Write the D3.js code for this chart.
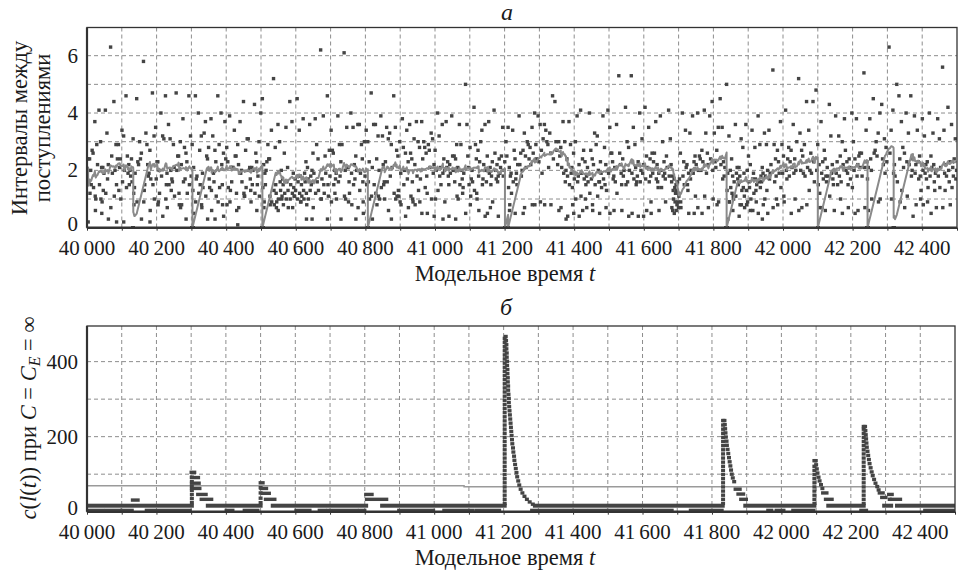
<!DOCTYPE html>
<html><head><meta charset="utf-8">
<script src="https://cdn.jsdelivr.net/npm/d3@7"></script>
<style>
body{margin:0;background:#fff}
svg{display:block}
</style>
</head><body>
<svg id="c" width="959" height="571"></svg>
<script>
// ---------------- data ----------------
const xTickValues = [40000,40200,40400,40600,40800,41000,41200,41400,41600,41800,42000,42200,42400];
const yTicksA = [0,2,4,6];
const yTicksB = [0,200,400];

// Panel a: inter-arrival intervals, in arrival order, grouped by segment start times
const segStart = [39999, 40133, 40303, 40504, 40807, 41201, 41838, 42100, 42243, 42318];
const s0 = [1.8,2.4,0.2,1.6,2.4,1.2,2.0,1.5,2.7,2.6, 1.4,3.7,1.1,0.6,1.0,2.9,2.2,4.1,1.5,3.0,
 1.0,2.1,0.5,0.9,2.1,1.3,1.9,4.1,1.2,3.3, 1.7,2.2,0.3,6.3,0.7,2.5,1.9,4.4,1.1,2.0,
 2.9,1.5,0.2,2.4,2.9,1.3,2.1,2.4,1.0,3.4, 1.6,3.2,0.2,2.0,4.6,1.4,2.5,1.9, 2.2,1.5,2.0,1.8,2.4,1.6,3.1];
const s1 = [0,0,0,0,0, 0,0,0,0,0, 0,0,0,0,0,
 1.2,0.8,1.4,1.9,4.5,0.9,2.3,2.2,3.0,2.4, 2.6,0.3,5.8,0.9,1.3,1.5,3.3,2.9,2.2,1.8,
 1.9,2.7,0.2,0.6,1.7,4.7,1.5,3.2,1.0,3.5, 1.7,2.3,2.3,0.8,0.9,2.0,1.2,4.0,1.8,3.2,
 0.4,3.1,4.6,1.0,1.5,1.9,0.7,3.6,1.5,3.1, 2.0,1.3,1.7,1.6,2.9,2.1,1.1,4.7,2.0,2.5,
 2.5,1.2,0.8,3.0,0.7,2.2,0.8,3.8,1.6,2.8, 1.7,2.6,0.3,2.3,1.2,4.6,1.5,3.2,1.8,2.9];
const s2 = [0,0,0,0,0, 0,0,0,0,0, 0,0,0,0,0, 0,0,0,0,0, 0,0,0,0,0,
 1.3,2.1,0.5,4.6,0.9,1.7,1.8,4.0,1.2,2.7, 1.5,3.2,0.8,0.7,1.9,1.4,3.3,3.7,1.1,2.5,
 2.4,0.3,2.8,1.7,1.4,3.8,1.3,0.6,3.2,1.9, 1.6,2.7,0.3,2.3,1.1,4.6,0.9,2.9,1.4,4.0,
 2.2,1.5,0.8,2.6,0.4,3.7,2.4,2.8,0.8,2.3, 1.4,3.9,0.9,1.3,2.1,1.6,2.1,2.1,3.4,2.5,
 2.5,1.2,0.6,2.9,0.1,2.2,0.7,3.7,1.9,2.0, 1.6,4.4,1.2,1.1,1.1,2.7,1.4,3.1,3.1,2.0,
 2.1,1.7,1.3,0.9,2.1,1.5,2.0,4.3,1.2,2.6, 2.3,0.6,1.5,1.8,3.0,1.1,4.0,4.5];
const s3 = [0,0,0,0,0, 0,0,0,0,0, 0,0,0,0,0, 0,0,0,0,0, 0,0,0,0,0,
 1.4,2.2,0.7,0.9,1.9,1.5,2.0,2.3,2.9,2.4, 2.4,1.1,0.8,3.4,0.9,5.2,1.3,0.8,2.8,1.5,
 1.2,0.7,0.9,3.6,0.6,1.0,3.0,1.6,1.3,2.0, 1.0,1.1,1.7,1.5,0.8,2.6,1.2,3.5,1.0,1.6,
 2.1,1.3,0.7,4.4,1.0,1.5,3.7,1.2,0.7,1.9, 1.4,1.1,1.1,1.7,1.3,4.5,1.0,1.6,3.4,1.2,
 1.8,0.9,0.9,1.5,1.1,3.8,1.3,1.0,1.9,1.6, 2.3,1.2,0.3,0.8,2.1,1.7,1.0,3.6,1.3,1.8,
 1.5,2.0,0.3,2.6,0.7,1.9,3.8,1.2,2.9,1.6, 2.4,1.3,6.2,1.0,1.0,1.7,3.9,1.5,1.2,2.5,
 1.9,4.6,0.3,1.5,1.1,2.7,1.8,3.4,0.9,2.7, 2.6,1.5,2.0,1.2,1.7,1.9,1.0,3.9,1.6,2.9,
 1.8,2.3,0.3,2.9,6.1,1.1,2.0,1.0,3.5,2.1, 2.1,0.9,1.6,1.2,4.0,1.9,0.8,3.5,1.5,2.2,
 1.7,2.5,0.3,2.0,3.6,0.7,3.6,1.3,1.9,2.9, 2.4,1.6,0.9,0.5,3.0,1.8,3.4,1.5,3.0];
const s4 = [0,0,0,0,0, 0,0,0,0,0, 0,0,0,0,0, 0,0,0,0,0, 0,0,
 1.6,2.3,1.0,4.7,1.1,2.1,0.3,3.6,1.5,3.6, 1.2,2.4,0.8,3.2,1.1,2.0,1.0,3.9,1.4,3.2,
 2.2,1.5,1.6,1.0,2.3,3.5,1.6,3.1,0.6,3.3, 1.8,2.9,0.3,2.1,4.6,1.2,3.5,1.0,2.7,1.1,
 2.5,1.3,1.1,3.0,0.9,1.9,0.8,3.8,2.8,1.5, 2.0,2.6,0.4,3.4,1.7,2.3,0.7,3.6,2.6,1.1,
 2.4,1.6,1.0,0.9,3.1,2.2,0.8,3.7,1.8,3.0, 1.3,2.8,0.9,1.7,3.7,0.5,2.4,3.0,2.8,1.4,
 2.6,1.8,1.2,0.5,2.9,2.7,2.1,3.3,1.0,3.1, 1.9,2.2,0.4,2.7,1.0,2.0,4.0,1.3,3.2,1.8,
 2.1,1.5,3.6,1.9,0.3,2.4,2.0,0.9,3.7,2.1, 2.3,1.8,1.5,0.4,2.2,1.9,3.9,2.5,2.0,2.5,
 1.6,2.4,0.3,2.9,1.1,2.1,1.0,3.6,1.5,2.9, 2.0,1.7,1.2,1.4,1.9,5.0,0.5,3.6,2.5,2.1,
 1.5,2.8,0.8,1.1,1.7,2.0,1.6,4.2,1.3,2.9, 2.4,1.2,1.0,2.7,1.8,0.6,2.3,3.0,3.4,1.5,
 1.7,2.2,3.6,0.4,2.0,1.6,2.5,0.5,3.7,1.9, 2.1,0.7,1.5,1.8,2.3,0.9,4.1,2.6,2.0,1.7,
 2.2,1.6,1.8,0.4,2.4,1.9,2.1,2.5,3.5,1.8, 2.0,2.3];
const s5 = [0,0,0,0,0, 0,0,0,0,0, 0,0,0,0,0, 0,0,0,0,0, 0,0,0,0,0,
 3.0,2.5,3.5,
 0,0,0,0,0, 0,0,0,0,0, 0,0,0,0,0, 0,0,0,0,0,
 1.4,2.1,0.6,0.8,1.8,1.9,1.2,3.4,1.6,2.7, 2.4,0.5,1.7,1.9,1.5,2.2,3.9,2.2,2.6,1.8,
 2.0,2.7,0.5,3.3,0.7,2.5,2.1,3.0,2.9,2.4, 2.8,2.2,3.5,0.8,2.6,4.0,0.8,2.9,2.4,3.9,
 2.3,3.6,0.9,2.7,1.9,3.1,3.6,0.8,3.4,3.0, 2.9,2.1,3.3,2.6,0.8,4.6,2.4,4.4,3.0,2.7,
 2.2,3.0,0.6,2.5,2.8,0.7,2.1,3.7,1.9,3.0, 1.6,2.0,0.3,2.4,1.8,0.4,3.7,1.5,2.9,1.9,
 2.1,1.4,0.8,2.6,0.5,1.7,3.0,1.0,3.9,1.6, 1.8,2.2,0.4,4.1,1.1,1.9,2.4,0.6,2.7,1.7,
 2.3,1.0,1.5,1.8,0.7,2.1,1.6,4.0,1.2,2.7, 1.7,2.4,0.8,0.6,2.2,3.3,1.5,2.9,3.2,1.1,
 2.0,1.6,1.6,0.5,2.3,1.9,1.4,3.9,1.7,2.8, 1.5,2.2,0.7,1.3,4.1,1.9,3.5,0.5,2.6,2.6,
 2.3,1.7,1.8,0.6,2.1,1.6,3.6,1.2,5.3,2.6, 2.2,1.9,1.5,0.6,2.4,1.8,2.0,4.2,1.5,3.0,
 1.6,2.8,0.4,2.0,5.3,1.9,0.5,3.5,1.7,2.9, 2.1,1.5,1.6,1.8,2.3,0.4,4.0,1.6,2.0,3.1,
 1.9,2.2,0.4,4.2,1.7,2.5,0.6,2.1,3.5,1.6, 2.4,1.8,0.9,0.5,2.6,1.9,2.3,2.6,3.7,1.7,
 2.2,1.6,1.4,1.9,0.6,3.9,2.0,1.4,3.0,1.8, 2.3,1.9,1.7,0.9,2.5,2.1,4.1,1.8,3.1,2.2,
 1.6,0.7,1.8,0.6,1.3,1.0,1.7,0.5,1.4,0.9, 1.2,1.5,0.6,1.3,0.8,1.6,0.9,1.2,0.7,1.1,
 1.7,2.6,0.9,0.7,4.0,1.8,2.3,1.5,3.4,2.1, 2.2,1.5,1.3,1.9,0.5,3.3,1.7,2.0,3.9,
 1.9,2.3,0.5,2.5,1.1,2.2,4.0,0.7,2.0,2.5, 2.4,2.0,2.7,0.5,2.3,4.1,1.1,3.3,1.9,
 2.6,2.2,0.7,3.9,2.4,4.4,2.0,1.0,3.3,2.3, 2.1,2.7,0.8,3.5,0.9,4.5,2.2,3.5,1.7,
 2.3,1.8,2.1,5.0];
const s6 = [0,0,0,0,0, 0,0,0,0,0, 0,0,0,0,0, 0,0,0,0,0, 0,0,0,0,0, 0,0,0,0,0,
 1.3,1.9,0.3,3.2,0.9,0.9,2.0,1.4,2.4,1.2, 1.8,0.6,1.1,1.0,1.6,3.6,1.1,1.9,2.1,1.7,
 1.5,2.1,0.4,1.8,0.8,3.1,0.8,1.3,2.8,1.4, 1.9,1.1,0.7,3.6,1.3,0.8,2.0,0.9,2.5,1.6,
 1.4,2.2,0.6,1.0,3.4,1.7,0.6,1.9,1.2,2.8, 1.7,1.3,0.9,1.5,3.9,0.5,1.6,2.9,1.4,1.8,
 1.6,2.1,0.3,1.9,0.8,3.3,1.0,1.8,2.9,1.3, 2.0,0.5,3.4,1.7,1.9,2.2,5.5,0.7,2.9,1.6,
 2.4,1.8,1.0,2.7,0.8,2.3,1.9,3.7,1.4,2.9, 1.9,2.5,1.1,0.9,4.1,2.0,1.7,2.4,2.8,1.8,
 2.3,2.7,0.5,2.1,3.6,1.9,2.4,1.0,2.0,3.0, 5.2,0.6,3.3,2.0,2.7,0.7,2.5,1.9,2.9,1.8,
 4.4,0.8,2.1,3.4,1.3,2.0,2.6,1.9,4.4,2.3, 1.6,4.8,2.0,2.9];
const s7 = [0,0,0,0,0, 0,0,0,0,0, 0,0,0,0,0, 0,0,0,0,0, 0,0,0,0,0,
 1.5,2.2,0.7,1.2,3.7,1.9,0.7,2.3,1.7,2.7, 2.4,0.6,1.8,1.6,2.1,1.8,4.3,1.1,3.2,1.9,
 2.2,1.7,1.5,2.0,0.6,3.9,1.9,2.3,1.5,3.2, 1.8,2.5,1.0,1.6,3.0,0.5,2.2,3.8,2.7,2.0,
 2.3,1.9,1.5,0.7,2.4,2.1,1.7,4.0,1.4,3.0, 2.0,2.4,0.5,3.8,1.8,2.2,0.6,2.5,2.6,2.1,
 2.6,1.8,5.4,2.1,0.7,3.4,2.3,1.7];
const s8 = [0,0,0,0,0, 0,0,0,0,0, 0,0,0,0,0, 0,0,0,0,0, 0,0,0,0,0, 0,0,0,
 2.1,0.6,3.8,2.4,2.0,1.0,4.5,2.6,2.7,3.0, 2.5,3.3,0.9,4.0,1.0,4.3,2.4,2.2,3.1,1.9,
 2.8,2.3,6.3,2.6,3.4,1.0,4.1,1.9];
const s9 = [0,0,0,0,0, 0,0,0,0,0, 0,0,0,0,0, 0,0,
 2.2,1.8,5.0,1.6,4.6,2.4,0.9,3.7,1.3,2.8, 2.1,2.6,0.7,4.0,2.3,1.1,3.3,2.2,4.6,1.8,
 2.0,2.4,0.4,3.9,1.9,2.2,0.8,3.4,2.3,1.7, 2.5,1.8,1.0,1.3,3.8,2.0,0.8,3.2,1.9,2.2,
 1.7,2.3,0.9,1.4,4.0,1.8,2.5,0.5,2.1,3.3, 2.2,1.6,1.3,1.9,2.0,0.7,3.8,1.8,3.1,1.4,
 2.1,5.6,0.7,3.4,1.9,1.3,2.2,1.8,4.2,2.0, 1.6,2.3,0.8,3.6,1.4,2.1,1.8,2.4,3.1,1.7,2.0];
const movingWindow = 20; // gray curve: mean of the last 20 intervals

// Panel б: c(l(t)) markers
const baseLevel = 16;
const baseRuns = [[40000,40302],[40348,40500],[40535,40804],[40850,41203],[41290,41831],
  [41896,42095],[42135,42237],[42296,42316],[42333,42500]];
const lowLevel = 4;
const lowRuns = [[40003,40046],[40057,40095],[40101,40129],[40172,40296],[40402,40419],[40454,40491],
  [40603,40641],[40670,40684],[40694,40776],[40786,40799],[40899,40997],[41029,41109],[41121,41187],
  [41282,41494],[41503,41684],[41739,41828],[41962,41971],[41986,42006],[42034,42092],[42230,42244],[42414,42494]];
const stepRuns = [[40132,40146,31],
  [40301,40309,105],[40302,40320,91],[40302,40322,76],[40302,40324,62],[40320,40342,46],[40330,40358,33],
  [40500,40506,77],[40502,40516,62],[40506,40524,49],[40515,40540,33],
  [40804,40820,46],[40806,40862,33],
  [41868,41880,60],[41876,41890,47],[41884,41898,33],
  [42120,42130,50],[42128,42145,33],
  [42283,42292,50],[42290,42300,38],
  [42310,42318,46],[42318,42342,33]];
const columnT = [40302, 40500, 41203, 41832, 42095, 42237];
const columnV = [
  [24,35,46,57,68,80,92],
  [24,36,50,64],
  [22,33,44,55,66,77,88,99,110,121,132,143,154,165,176,187,198,209,220,231,242,253,264,275,286,297,308,319,330,341,352,363,374,385,396,407,418,429,440,451,462],
  [22,33,44,55,66,77,88,99,110,121,132,143,154,165,176,187,198,209,220,231,243],
  [22,33,44,55,66,77,88,99,110,121,136],
  [22,33,44,55,66,77,88,99,110,121,132,143,154,165,176,187,198,209,220,227]];
const decayPts = [
  [41206,467],[41207,456],[41208,445],[41208,434],[41209,423],[41209,412],[41210,401],[41210,390],[41211,379],[41211,368],
  [41212,357],[41212,346],[41213,335],[41213,324],[41214,313],[41215,302],[41215,291],[41216,280],[41217,269],[41218,258],
  [41219,247],[41220,236],[41221,225],[41222,214],[41223,203],[41224,192],[41225,181],[41227,170],[41228,159],[41230,148],
  [41231,137],[41233,126],[41235,115],[41237,104],[41239,93],[41242,82],[41245,71],[41249,60],[41254,50],[41260,41],
  [41267,33],[41275,26],[41284,20],
  [41836,243],[41837,232],[41838,221],[41839,210],[41840,199],[41842,188],[41843,177],[41845,166],[41847,155],[41849,144],
  [41851,133],[41853,122],[41855,111],[41857,100],[41860,90],[41864,80],
  [42099,136],[42100,125],[42102,114],[42104,103],[42107,92],[42110,82],[42114,72],[42118,62],
  [42241,227],[42242,216],[42243,205],[42244,194],[42245,183],[42246,172],[42248,161],[42250,150],[42252,139],[42254,128],
  [42257,117],[42260,106],[42263,96],[42267,86],[42271,76],[42276,67],[42280,58],
  [42312,33]];
const limitT = [40000, 41086, 41086, 42500];
const limitV = [69, 69, 66.5, 66.5];

// ---------------- drawing ----------------
const FONT = '"Liberation Serif", "Times New Roman", serif';
const svg = d3.select('#c');
const pA = {l:87, r:957, t:27.5, b:227.7};
const pB = {l:87, r:955, t:326, b:511.7};
const xA = d3.scaleLinear().domain([40000,42500]).range([pA.l,pA.r]);
const yA = d3.scaleLinear().domain([0,7]).range([pA.b, pA.b-7*28.67]);
const xB = d3.scaleLinear().domain([40000,42500]).range([pB.l,pB.r]);
const yB = d3.scaleLinear().domain([0,495]).range([pB.b, pB.t]);

const fmt = v => { const s = String(v); return s.slice(0,2) + '\u2009' + s.slice(2); };
const gridColor = '#8d8d8d', frameColor = '#333', markColor = '#444', textColor = '#1a1a1a';
const vGrid = d3.range(40100, 42500, 100);
const FS = 21, FT = 22.5, FL = 24;

function txt(sel){ return sel.attr('font-family',FONT).attr('fill',textColor); }

const defs = svg.append('defs');
defs.append('clipPath').attr('id','clipA').append('rect')
  .attr('x',pA.l).attr('y',pA.t).attr('width',pA.r-pA.l).attr('height',pA.b-pA.t);
defs.append('clipPath').attr('id','clipB').append('rect')
  .attr('x',pB.l).attr('y',pB.t).attr('width',pB.r-pB.l).attr('height',pB.b-pB.t);

function panel(p, x, y, hGrid, yTicks, yFmt){
  const g = svg.append('g');
  g.selectAll('.vg').data(vGrid).join('line')
    .attr('x1',d=>x(d)).attr('x2',d=>x(d)).attr('y1',p.t).attr('y2',p.b)
    .attr('stroke',gridColor).attr('stroke-width',1).attr('stroke-dasharray','4,3');
  g.selectAll('.hg').data(hGrid).join('line')
    .attr('x1',p.l).attr('x2',p.r).attr('y1',d=>y(d)).attr('y2',d=>y(d))
    .attr('stroke',gridColor).attr('stroke-width',1).attr('stroke-dasharray','4,3');
  const ax = svg.append('g').attr('transform',`translate(0,${p.b})`)
    .call(d3.axisBottom(x).tickValues(d3.range(40000,42501,100)).tickSize(3).tickFormat(''));
  ax.select('.domain').remove();
  ax.selectAll('line').attr('stroke',frameColor).attr('stroke-width',1);
  txt(svg.append('g').selectAll('text').data(xTickValues).join('text')
    .attr('x',d=>x(d)).attr('y',p.b+27.5).attr('text-anchor','middle')
    .attr('font-size',FS).text(fmt));
  // the lowest label sits a little higher so it clears the first x label
  txt(svg.append('g').selectAll('text').data(yTicks).join('text')
    .attr('x',p.l-9).attr('y',d=>y(d)+(d===0 ? 3.5 : 7)).attr('text-anchor','end')
    .attr('font-size',FS).text(yFmt));
}
function frame(p){
  const g = svg.append('g');
  g.append('rect').attr('x',p.l).attr('y',p.t).attr('width',p.r-p.l).attr('height',p.b-p.t)
    .attr('fill','none').attr('stroke',frameColor).attr('stroke-width',1.3);
  g.append('line').attr('x1',p.l).attr('x2',p.r).attr('y1',p.b).attr('y2',p.b)
    .attr('stroke',frameColor).attr('stroke-width',2.6);
  g.append('line').attr('x1',p.l).attr('x2',p.l).attr('y1',p.t).attr('y2',p.b)
    .attr('stroke',frameColor).attr('stroke-width',2.2);
}

// ---- panel а ----
panel(pA, xA, yA, [1,2,3,4,5,6], yTicksA, d=>d);
const segments = [s0,s1,s2,s3,s4,s5,s6,s7,s8,s9];
const arrivals = [];
segments.forEach((seg,k)=>{ let t = segStart[k]; seg.forEach(v=>{ t += v; arrivals.push({t, v}); }); });
const avgCurve = arrivals.map((d,i)=>({t:d.t, v:d3.mean(arrivals.slice(Math.max(0,i-movingWindow+1), i+1), e=>e.v)}));

const plotA = svg.append('g').attr('clip-path','url(#clipA)');
const ms = 3.4;
plotA.selectAll('rect.pt').data(arrivals).join('rect')
  .attr('x',d=>xA(d.t)-ms/2).attr('y',d=>yA(d.v)-ms/2).attr('width',ms).attr('height',ms)
  .attr('fill',markColor);
plotA.append('path').datum(avgCurve)
  .attr('d', d3.line().x(d=>xA(d.t)).y(d=>yA(d.v)))
  .attr('fill','none').attr('stroke','#8a8a8a').attr('stroke-width',2).attr('stroke-linejoin','round');
frame(pA);

// ---- panel б ----
panel(pB, xB, yB, [100,200,300,400], yTicksB, d=>d);
const plotB = svg.append('g').attr('clip-path','url(#clipB)');
plotB.append('path').datum(limitT.map((t,i)=>[t,limitV[i]]))
  .attr('d', d3.line().x(d=>xB(d[0])).y(d=>yB(d[1])))
  .attr('fill','none').attr('stroke','#9a9a9a').attr('stroke-width',1.5);
const mw = 4, mh = 3.4;
plotB.selectAll('rect.base').data(baseRuns).join('rect')
  .attr('x',d=>xB(d[0])-mw/2).attr('width',d=>xB(d[1])-xB(d[0])+mw)
  .attr('y',yB(baseLevel)-2).attr('height',4).attr('fill',markColor);
plotB.selectAll('rect.low').data(lowRuns).join('rect')
  .attr('x',d=>xB(d[0])-mw/2).attr('width',d=>xB(d[1])-xB(d[0])+mw)
  .attr('y',yB(lowLevel)-1.5).attr('height',3).attr('fill',markColor);
plotB.selectAll('rect.step').data(stepRuns).join('rect')
  .attr('x',d=>xB(d[0])-mw/2).attr('width',d=>xB(d[1])-xB(d[0])+mw)
  .attr('y',d=>yB(d[2])-mh/2).attr('height',mh).attr('fill',markColor);
const colPts = [];
columnT.forEach((t,i)=>columnV[i].forEach(c=>colPts.push([t,c])));
plotB.selectAll('rect.col').data(colPts.concat(decayPts)).join('rect')
  .attr('x',d=>xB(d[0])-mw/2).attr('width',mw)
  .attr('y',d=>yB(d[1])-mh/2).attr('height',mh).attr('fill',markColor);
frame(pB);

// ---- texts ----
txt(svg.append('text').attr('x',507).attr('y',20).attr('text-anchor','middle')
  .attr('font-size',FL).attr('font-style','italic').text('а'));
txt(svg.append('text').attr('x',506).attr('y',315).attr('text-anchor','middle')
  .attr('font-size',FL).attr('font-style','italic').text('б'));
function xTitle(y){
  const t = txt(svg.append('text').attr('x',505).attr('y',y).attr('text-anchor','middle').attr('font-size',FT));
  t.append('tspan').text('Модельное время ');
  t.append('tspan').attr('font-style','italic').text('t');
}
xTitle(280.5);
xTitle(564.5);
txt(svg.append('text').attr('transform','translate(27,128) rotate(-90)').attr('text-anchor','middle')
  .attr('font-size',FT).text('Интервалы между'));
txt(svg.append('text').attr('transform','translate(50,128) rotate(-90)').attr('text-anchor','middle')
  .attr('font-size',FT).text('поступлениями'));
const yl = txt(svg.append('text').attr('transform','translate(36,418) rotate(-90)').attr('text-anchor','middle').attr('font-size',FT));
yl.append('tspan').attr('font-style','italic').text('c');
yl.append('tspan').text('(');
yl.append('tspan').attr('font-style','italic').text('l');
yl.append('tspan').text('(');
yl.append('tspan').attr('font-style','italic').text('t');
yl.append('tspan').text(')) при ');
yl.append('tspan').attr('font-style','italic').text('C');
yl.append('tspan').text(' = ');
yl.append('tspan').attr('font-style','italic').text('C');
yl.append('tspan').attr('font-style','italic').attr('font-size',16).attr('dy',4).text('E');
yl.append('tspan').attr('dy',-4).text(' = ∞');
</script>
</body></html>
